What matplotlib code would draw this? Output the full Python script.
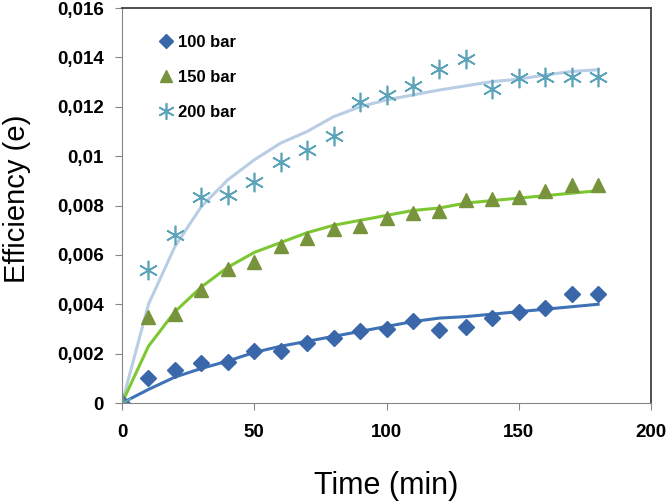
import numpy as np
import matplotlib.pyplot as plt
from matplotlib.ticker import FuncFormatter

plt.rcParams["font.family"] = ["Liberation Sans", "DejaVu Sans"]

# Time points (min)
time = [0, 10, 20, 30, 40, 50, 60, 70, 80, 90, 100, 110, 120, 130, 140, 150, 160, 170, 180]

# Measured efficiency
eff_100 = [0, 0.00101, 0.00132, 0.00162, 0.00168, 0.00209, 0.00212, 0.00243, 0.00263,
           0.0029, 0.0030, 0.00334, 0.00294, 0.00308, 0.00344, 0.00368, 0.00385, 0.00441, 0.00441]
eff_150 = [0, 0.0035, 0.0036, 0.00456, 0.00542, 0.00573, 0.00637, 0.00668, 0.00704,
           0.00718, 0.00749, 0.0077, 0.00776, 0.00823, 0.00827, 0.00836, 0.0086, 0.00884, 0.00884]
eff_200 = [0, 0.00537, 0.00681, 0.00836, 0.00843, 0.00897, 0.00978, 0.01023, 0.0108,
           0.01219, 0.01248, 0.01286, 0.01353, 0.01393, 0.01271, 0.01318, 0.01322, 0.0132, 0.01322]

# Model curves
fit_100 = [0, 0.00055, 0.00105, 0.0014, 0.0017, 0.00205, 0.0023, 0.0025, 0.0027,
           0.0029, 0.0031, 0.0033, 0.00344, 0.0035, 0.0036, 0.0037, 0.0038, 0.0039, 0.004]
fit_150 = [0, 0.0023, 0.0037, 0.0047, 0.0055, 0.0061, 0.0065, 0.0069, 0.0072,
           0.0074, 0.0076, 0.0078, 0.0079, 0.0081, 0.0082, 0.0083, 0.0084, 0.0085, 0.0086]
fit_200 = [0, 0.0040, 0.00634, 0.00796, 0.00904, 0.00985, 0.01053, 0.011, 0.0116,
           0.012, 0.01228, 0.01248, 0.01268, 0.01285, 0.01302, 0.01312, 0.01329, 0.01343, 0.0135]

fig = plt.figure(figsize=(6.66, 5.03), dpi=100)
ax = fig.add_axes([0.1832, 0.1988, 0.7943, 0.7852])

ax.plot(time, fit_200, color="#B9CDE5", lw=2.2)
ax.plot(time, fit_150, color="#7DC832", lw=2.2)
ax.plot(time, fit_100, color="#3F72B5", lw=2.2)

ax.plot(time, eff_100, "D", color="#3A67AA", ms=8.5, label="100 bar", ls="none")
ax.plot(time, eff_150, "^", color="#77933C", ms=10.5, label="150 bar", ls="none")
ax.plot(time, eff_200, marker=(6, 2, 0), color="#5BA3B8", ms=14, mew=1.2,
        label="200 bar", ls="none")

ax.set_xlim(0, 200)
ax.set_ylim(0, 0.016)
ax.set_xticks([0, 50, 100, 150, 200])
ax.set_yticks(np.arange(0, 0.0161, 0.002))


def comma_fmt(v, pos):
    if abs(v) < 1e-12:
        return "0"
    s = f"{v:.3f}".rstrip("0")
    return s.replace(".", ",")


ax.yaxis.set_major_formatter(FuncFormatter(comma_fmt))
ax.tick_params(direction="out", length=5, color="#868686", labelsize=13.5)
ax.tick_params(axis="x", pad=10)
ax.tick_params(axis="y", pad=8)
for lab in ax.get_xticklabels() + ax.get_yticklabels():
    lab.set_fontweight("bold")

for side in ["left", "bottom"]:
    ax.spines[side].set_color("#868686")
for side in ["top", "right"]:
    ax.spines[side].set_color("#404040")
    ax.spines[side].set_linewidth(1.3)

ax.set_xlabel("Time (min)", fontsize=22, labelpad=22)
ax.set_ylabel("Efficiency (e)", fontsize=21, labelpad=19, y=0.518)

leg = ax.legend(loc="upper left", bbox_to_anchor=(0.035, 0.97), frameon=False,
                prop={"weight": "bold", "size": 12}, handletextpad=0.15,
                handlelength=1.2, labelspacing=1.2, markerscale=0.85)

fig.savefig("out.png", dpi=100)
